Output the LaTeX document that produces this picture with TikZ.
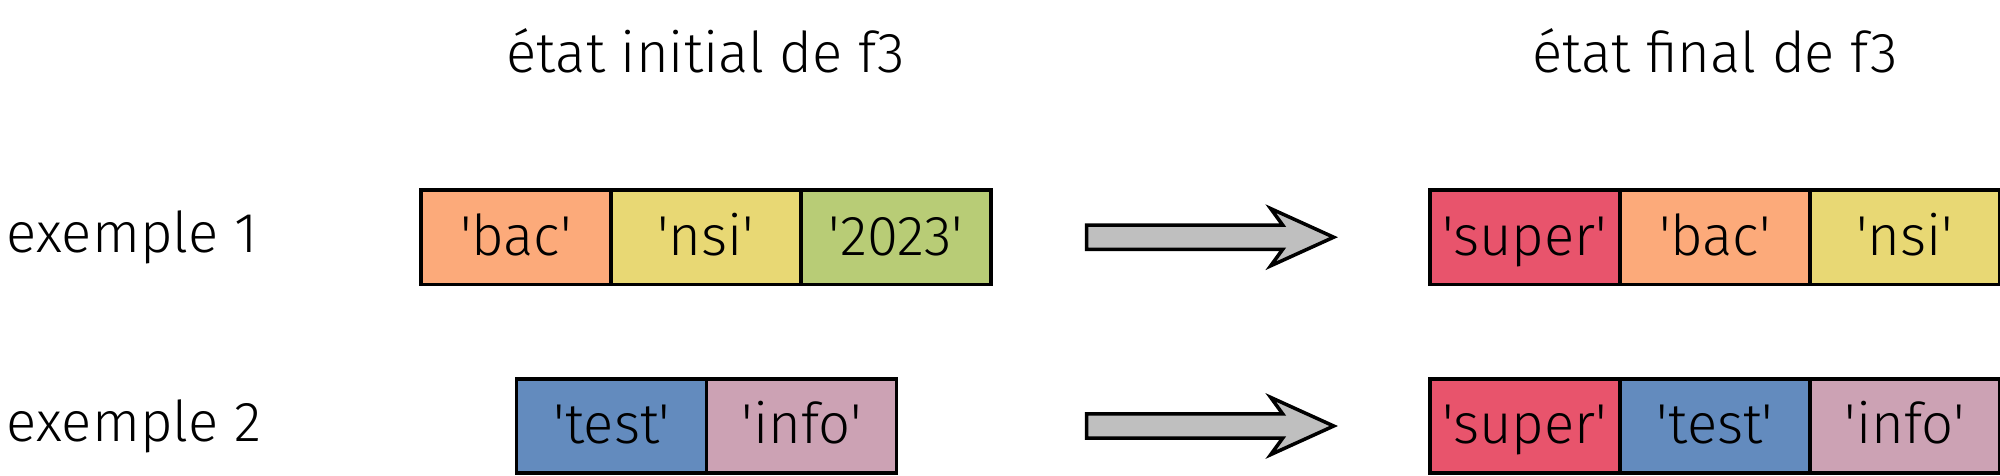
\documentclass[tikz,border=0pt]{standalone}
\usepackage{fontspec}
\newfontfamily\firalight{Fira Sans Light}
\usetikzlibrary{calc, positioning}

\definecolor{cbac}{RGB}{252,170,122}
\definecolor{cnsi}{RGB}{232,216,116}
\definecolor{cyear}{RGB}{184,204,118}
\definecolor{csuper}{RGB}{232,84,108}
\definecolor{ctest}{RGB}{99,139,190}
\definecolor{cinfo}{RGB}{204,162,180}

\begin{document}
\begin{tikzpicture}[every node/.style={font=\firalight\fontsize{16}{19}\selectfont},
	cell/.style={draw=black, line width=1pt, minimum width=1.9cm, minimum height=0.944cm,
		inner sep=0pt, outer sep=0pt, text height=12pt, text depth=1.8pt},
	bigarrow/.style={draw=black, line width=1pt, fill=lightgray, line join=miter}]

	\useasboundingbox (0,0) rectangle (20,4.75);

	\coordinate (L1) at (4.209,2.378);
	\coordinate (L2) at (5.166,0.490);
	\coordinate (R1) at (14.298,2.378);
	\coordinate (R2) at (14.298,0.490);
	\coordinate (A1) at (10.867,2.378);
	\coordinate (A2) at (10.867,0.490);

	\node[anchor=west, inner sep=0pt] (ex1) at (0.06,2.378) {exemple 1};
	\node[anchor=west, inner sep=0pt] (ex2) at (0.06,0.490) {exemple 2};

	\node[cell, fill=cbac, right=0pt of L1] (i11) {'bac'};
	\node[cell, fill=cnsi, right=0pt of i11] (i12) {'nsi'};
	\node[cell, fill=cyear, right=0pt of i12] (i13) {'2023'};
	\node (tinit) at (i12 |- 0,4.24) {état initial de f3};

	\node[cell, fill=ctest, right=0pt of L2] (i21) {'test'};
	\node[cell, fill=cinfo, right=0pt of i21] (i22) {'info'};

	\node[cell, fill=csuper, right=0pt of R1] (f11) {'super'};
	\node[cell, fill=cbac, right=0pt of f11] (f12) {'bac'};
	\node[cell, fill=cnsi, right=0pt of f12] (f13) {'nsi'};
	\node (tfinal) at (f12 |- 0,4.24) {état final de f3};

	\node[cell, fill=csuper, right=0pt of R2] (f21) {'super'};
	\node[cell, fill=ctest, right=0pt of f21] (f22) {'test'};
	\node[cell, fill=cinfo, right=0pt of f22] (f23) {'info'};

	\draw[bigarrow] (A1) ++(0,0.121) -- ++(1.96,0) -- ++(-0.12,0.165) -- ++(0.63,-0.286)
		-- ++(-0.63,-0.286) -- ++(0.12,0.165) -- ++(-1.96,0) -- cycle;
	\draw[bigarrow] (A2) ++(0,0.121) -- ++(1.96,0) -- ++(-0.12,0.165) -- ++(0.63,-0.286)
		-- ++(-0.63,-0.286) -- ++(0.12,0.165) -- ++(-1.96,0) -- cycle;

\end{tikzpicture}
\end{document}
